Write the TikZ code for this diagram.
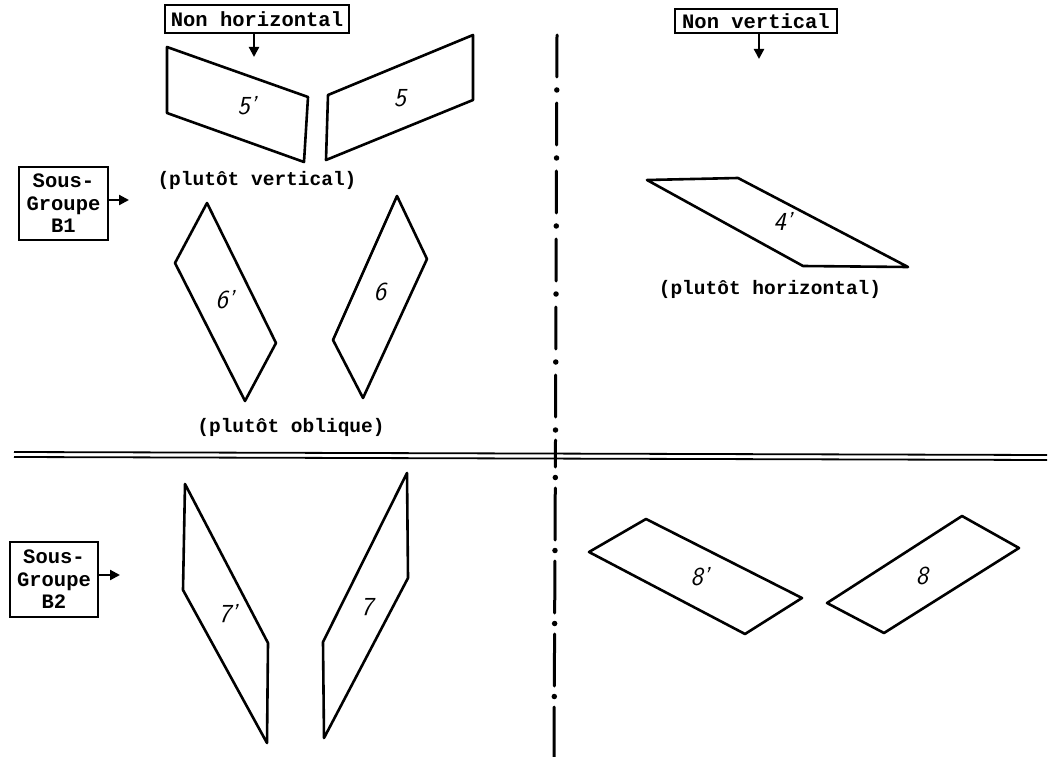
\documentclass[tikz,border=0pt]{standalone}
\usepackage{fontspec}
\setmonofont{Liberation Mono}
\usetikzlibrary{arrows.meta}
\begin{document}
\begin{tikzpicture}[x=1pt,y=-1pt,
  lbox/.style={draw,line width=2pt,inner sep=0pt,font=\ttfamily\bfseries\fontsize{20.5}{22.5}\selectfont,align=center},
  arr/.style={line width=2.2pt,-{Triangle[length=10pt,width=10pt]}},
  par/.style={draw,line width=2.6pt,line join=round},
  num/.style={font=\sffamily\itshape\fontsize{26}{26}\selectfont},
  captxt/.style={font=\ttfamily\bfseries\fontsize{19.5}{22}\selectfont},
  sep/.style={line width=3pt,line cap=round},
  sepdot/.style={line width=5.5pt,line cap=round}]
\useasboundingbox (0,0) rectangle (1057,757);

% label boxes
\node[lbox,minimum width=184pt,minimum height=28pt] (nh) at (257,19) {Non horizontal};
\node[lbox,minimum width=162pt,minimum height=24pt] (nv) at (756,21.5) {Non vertical};
\node[lbox,minimum width=89pt,minimum height=73pt] (b1) at (63.5,203.5) {Sous-\\Groupe\\B1};
\node[lbox,minimum width=88pt,minimum height=75pt] (b2) at (54,579.5) {Sous-\\Groupe\\B2};

\coordinate (nhA) at (254,57);
\coordinate (nvA) at (759,59);
\coordinate (b1A) at (129,200);
\coordinate (b2A) at (120,575);
\draw[arr] (nh.south -| nhA) -- (nhA);
\draw[arr] (nv.south -| nvA) -- (nvA);
\draw[arr] (b1.east |- b1A) -- (b1A);
\draw[arr] (b2.east |- b2A) -- (b2A);

% group B1, left
\draw[par] (167,47) -- (308,97) -- (304,162) -- (167,113) -- cycle;
\node[num] (n5p) at (247,106) {5'};
\draw[par] (328,95) -- (473,35) -- (473,100) -- (326,160) -- cycle;
\node[num] (n5) at (400,98) {5};
\node[captxt] (c1) at (257,180) {(plutôt vertical)};

\draw[par] (207,203) -- (276,343) -- (245,401) -- (175,263) -- cycle;
\node[num] (n6p) at (225,300) {6'};
\draw[par] (397,196) -- (427,259) -- (363,398) -- (333,340) -- cycle;
\node[num] (n6) at (380,292) {6};
\node[captxt] (c2) at (291,427) {(plutôt oblique)};

% group B1, right
\draw[par] (647,180) -- (738,178) -- (908,267) -- (803,266) -- cycle;
\node[num] (n4p) at (783,221) {4'};
\node[captxt] (c3) at (770,289) {(plutôt horizontal)};

% group B2
\draw[par] (185,484) -- (268,643) -- (267,743) -- (183,590) -- cycle;
\node[num] (n7p) at (228,614) {7'};
\draw[par] (407,473) -- (408,578) -- (324,738) -- (323,642) -- cycle;
\node[num] (n7) at (367,607) {7};

\draw[par] (589,552) -- (646,519) -- (802,598) -- (745,634) -- cycle;
\node[num] (n8p) at (700,577) {8'};
\draw[par] (827,603) -- (962,516) -- (1019,548) -- (884,633) -- cycle;
\node[num] (n8) at (922,576) {8};

% separators
\draw[line width=1.8pt] (14,452) -- (1047,455);
\draw[line width=1.8pt] (14,457) -- (1047,460);
\draw[sep,dash pattern=on 42pt off 26pt] (557,35) -- (555.5,432);
\draw[sepdot,dash pattern=on 0pt off 68pt,dash phase=13pt] (557,35) -- (555.5,432);
\draw[sep,dash pattern=on 52pt off 21pt,dash phase=25pt] (555.5,440) -- (554,757);
\draw[sepdot,dash pattern=on 0pt off 73pt,dash phase=35.5pt] (555.5,440) -- (554,757);
\end{tikzpicture}
\end{document}
